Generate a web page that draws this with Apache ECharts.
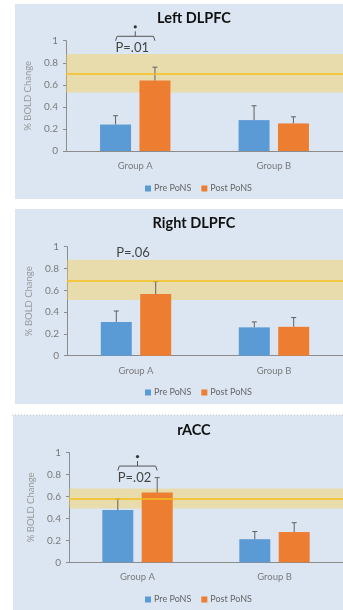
<!DOCTYPE html>
<html>
<head>
<meta charset="utf-8">
<script src="https://cdn.jsdelivr.net/npm/echarts@6/dist/echarts.min.js"></script>
<style>
  html, body { margin: 0; padding: 0; background: #ffffff; }
  #chart { width: 343px; height: 610px; }
</style>
</head>
<body>
<div id="chart"></div>
<script>
// ---------- data ----------
const categories = ['Group A', 'Group B'];
const panelTitles = ['Left DLPFC', 'Right DLPFC', 'rACC'];
const seriesNames = ['Pre PoNS', 'Post PoNS'];
const preValues  = [[0.24, 0.28], [0.31, 0.26], [0.475, 0.21]];
const postValues = [[0.64, 0.25], [0.565, 0.265], [0.635, 0.275]];
const preErrTop  = [[0.32, 0.41], [0.41, 0.31], [0.575, 0.28]];
const postErrTop = [[0.76, 0.31], [0.68, 0.35], [0.77, 0.36]];
const bandLow  = [0.53, 0.51, 0.49];
const bandHigh = [0.88, 0.88, 0.67];
const refLine  = [0.70, 0.69, 0.58];
const pLabels  = ['P=.01', 'P=.06', 'P=.02'];
const pLabelY  = [0.94, 0.94, 0.77];
const bracketY = [1.04, null, 0.875];
const yMin = 0, yMax = 1, yInterval = 0.2;

// ---------- layout / style ----------
const FONT = 'Lato, "Open Sans", sans-serif';
const BLUE = '#5b9bd5', ORANGE = '#ed7d31';
const BAR_W = 31, BAR_GAP_PX = 8.4;
const panels = [
  { bgLeft: 15, bgTop: 4,   bgBottom: 199, gridLeft: 66, gridTop: 40.7,  gridH: 110.3, titleTop: 11,  legendTop: 184 },
  { bgLeft: 15, bgTop: 209, bgBottom: 404, gridLeft: 67, gridTop: 246.7, gridH: 109,   titleTop: 216, legendTop: 388 },
  { bgLeft: 13, bgTop: 415, bgBottom: 610, gridLeft: 69, gridTop: 452.3, gridH: 110,   titleTop: 423, legendTop: 595 }
];

const graphic = [];
panels.forEach(function (p, i) {
  graphic.push({ type: 'rect', z: -10, shape: { x: p.bgLeft, y: p.bgTop, width: 343 - p.bgLeft, height: p.bgBottom - p.bgTop },
    style: { fill: '#dce6f2' } });
});
graphic.push({ type: 'line', z: -5, shape: { x1: 12, y1: 415, x2: 343, y2: 415 },
  style: { stroke: '#c8c8c8', lineWidth: 1, lineDash: [1, 2] } });

const titles = [], grids = [], xAxes = [], yAxes = [], legends = [], series = [];

function errRender(sign) {
  return function (params, api) {
    const c0 = api.coord([api.value(0), api.value(1)]);
    const c1 = api.coord([api.value(0), api.value(2)]);
    const x = c0[0] + sign * (BAR_W + BAR_GAP_PX) / 2;
    return { type: 'group', children: [
      { type: 'line', shape: { x1: x, y1: c0[1], x2: x, y2: c1[1] }, style: { stroke: '#606060', lineWidth: 1 } },
      { type: 'line', shape: { x1: x - 2.5, y1: c1[1], x2: x + 2.5, y2: c1[1] }, style: { stroke: '#606060', lineWidth: 1 } }
    ] };
  };
}

panels.forEach(function (p, i) {
  titles.push({ text: panelTitles[i], left: 194, top: p.titleTop, textAlign: 'center', padding: 0,
    textStyle: { fontFamily: FONT, fontSize: 14.5, fontWeight: 'bold', color: '#111' } });
  grids.push({ left: p.gridLeft, top: p.gridTop, width: 278, height: p.gridH });
  xAxes.push({ type: 'category', gridIndex: i, data: categories,
    axisLine: { lineStyle: { color: '#8c8c8c', width: 1 } }, axisTick: { show: false },
    axisLabel: { color: '#7a7a7a', fontSize: 9.5, fontFamily: FONT, margin: 10 } });
  yAxes.push({ type: 'value', gridIndex: i, min: yMin, max: yMax, interval: yInterval,
    name: '% BOLD Change', nameLocation: 'middle', nameGap: 24,
    nameTextStyle: { color: '#9a9a9a', fontSize: 9.5, fontFamily: FONT },
    axisLine: { show: true, lineStyle: { color: '#8c8c8c', width: 1 } },
    axisTick: { show: true, length: 3, lineStyle: { color: '#8c8c8c' } },
    splitLine: { show: false },
    axisLabel: { color: '#7a7a7a', fontSize: 10, fontFamily: FONT, margin: 8,
      formatter: function (v) { return v === 0 ? '0' : v === 1 ? '1' : String(+v.toFixed(1)); } } });
  legends.push({ data: seriesNames, left: 145, top: p.legendTop, padding: 0, itemWidth: 6, itemHeight: 6, itemGap: 10,
    icon: 'rect', textStyle: { color: '#666', fontSize: 9, fontFamily: FONT, padding: [0, 0, 0, -2] } });

  series.push({ name: seriesNames[0], type: 'bar', xAxisIndex: i, yAxisIndex: i, barWidth: BAR_W, barGap: (BAR_GAP_PX / BAR_W * 100) + '%',
    itemStyle: { color: BLUE }, data: preValues[i], z: 2 });
  series.push({ name: seriesNames[1], type: 'bar', xAxisIndex: i, yAxisIndex: i, barWidth: BAR_W,
    itemStyle: { color: ORANGE }, data: postValues[i], z: 2 });

  // reference band + line
  series.push({ type: 'line', xAxisIndex: i, yAxisIndex: i, data: [], z: 3, silent: true,
    markArea: { silent: true, itemStyle: { color: 'rgba(250,205,70,0.40)' }, data: [[{ yAxis: bandLow[i] }, { yAxis: bandHigh[i] }]] },
    markLine: { silent: true, symbol: 'none', label: { show: false }, lineStyle: { color: '#f5bf1e', width: 1.5, type: 'solid' },
      data: [{ yAxis: refLine[i] }] } });

  // error bars
  series.push({ type: 'custom', xAxisIndex: i, yAxisIndex: i, z: 4, silent: true, renderItem: errRender(-1),
    data: categories.map(function (c, k) { return [k, preValues[i][k], preErrTop[i][k]]; }) });
  series.push({ type: 'custom', xAxisIndex: i, yAxisIndex: i, z: 4, silent: true, renderItem: errRender(1),
    data: categories.map(function (c, k) { return [k, postValues[i][k], postErrTop[i][k]]; }) });

  // significance annotation
  series.push({ type: 'custom', xAxisIndex: i, yAxisIndex: i, z: 5, silent: true, clip: false,
    data: [[0, pLabelY[i], bracketY[i] === null ? -1 : bracketY[i]]],
    renderItem: function (params, api) {
      const half = (BAR_W + BAR_GAP_PX) / 2;
      const pc = api.coord([api.value(0), api.value(1)]);
      const children = [{ type: 'text', style: { text: pLabels[i], x: pc[0] - 3, y: pc[1], textAlign: 'center', textVerticalAlign: 'middle',
        fill: '#444', fontSize: 13, fontFamily: FONT } }];
      const by = api.value(2);
      if (by >= 0) {
        const bc = api.coord([api.value(0), by]);
        const xl = bc[0] - half, xr = bc[0] + half, y = bc[1];
        children.push({ type: 'polyline', shape: { points: [[xl, y + 4.5], [xl + 1.5, y], [xr - 1.5, y], [xr, y + 4.5]] },
          style: { stroke: '#555', lineWidth: 1, fill: null } });
        children.push({ type: 'line', shape: { x1: bc[0], y1: y, x2: bc[0], y2: y - 5 }, style: { stroke: '#555', lineWidth: 1 } });
        children.push({ type: 'circle', shape: { cx: bc[0], cy: y - 9.5, r: 1.6 }, style: { fill: '#333' } });
      }
      return { type: 'group', children: children };
    } });
});

const chart = echarts.init(document.getElementById('chart'), null, { renderer: 'canvas' });
chart.setOption({
  animation: false,
  backgroundColor: '#ffffff',
  graphic: graphic,
  title: titles,
  grid: grids,
  xAxis: xAxes,
  yAxis: yAxes,
  legend: legends,
  series: series
});
</script>
</body>
</html>
